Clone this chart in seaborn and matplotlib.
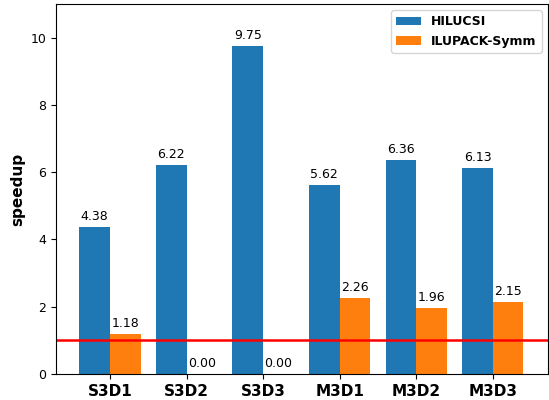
import matplotlib
matplotlib.use("Agg")
import matplotlib.pyplot as plt
import seaborn as sns
import pandas as pd

categories = ["S3D1", "S3D2", "S3D3", "M3D1", "M3D2", "M3D3"]
hilucsi = [4.38, 6.22, 9.75, 5.62, 6.36, 6.13]
ilupack = [1.18, 0.00, 0.00, 2.26, 1.96, 2.15]
series = ["HILUCSI", "ILUPACK-Symm"]

df = pd.DataFrame({
    "case": categories * 2,
    "speedup": hilucsi + ilupack,
    "method": [series[0]] * len(categories) + [series[1]] * len(categories),
})

fig, ax = plt.subplots(figsize=(5.49, 4.0), dpi=100)
fig.subplots_adjust(left=0.102, right=0.998, top=0.99, bottom=0.065)

sns.barplot(data=df, x="case", y="speedup", hue="method", ax=ax,
            palette=["#1f77b4", "#ff7f0e"], width=0.8, saturation=1,
            errorbar=None)

for cont in ax.containers:
    ax.bar_label(cont, fmt="%.2f", padding=3, fontsize=9)

ax.axhline(1.0, color="red", linewidth=1.8)
ax.set_ylim(0, 11)
ax.set_xlim(-0.705, 5.72)
ax.set_xlabel("")
ax.set_ylabel("speedup", fontsize=11, fontweight="bold")
for lbl in ax.get_xticklabels():
    lbl.set_fontweight("bold")
    lbl.set_fontsize(11)
ax.tick_params(axis="y", labelsize=9)
ax.legend(loc="upper right", prop={"weight": "bold", "size": 9})

fig.savefig("out.png", dpi=100)
